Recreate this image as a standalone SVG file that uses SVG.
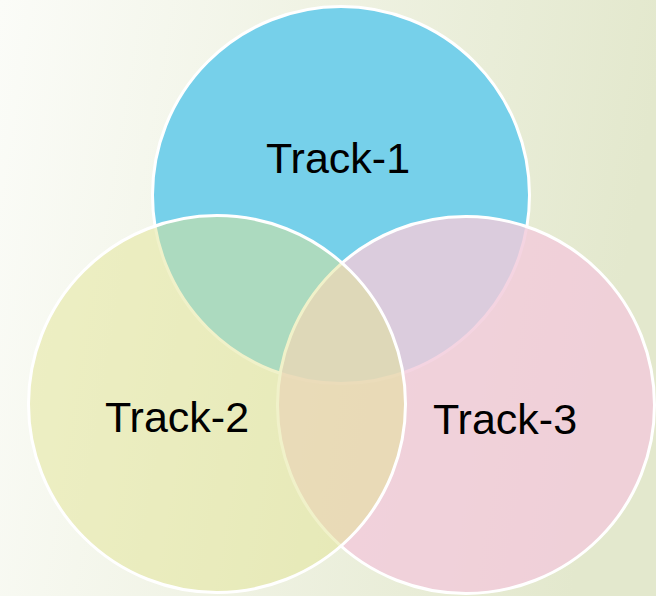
<svg xmlns="http://www.w3.org/2000/svg" width="656" height="596" viewBox="0 0 656 596">
  <defs>
    <linearGradient id="bg" x1="0" y1="0" x2="1" y2="0.15">
      <stop offset="0" stop-color="#fbfcf8"/>
      <stop offset="1" stop-color="#e3e8cd"/>
    </linearGradient>
  </defs>
  <style>
    .c { stroke: #ffffff; stroke-width: 3; }
    .label { font-family: "Liberation Sans", Arial, sans-serif; font-size: 43px; fill: #000000; text-anchor: middle; }
  </style>
  <rect width="656" height="596" fill="url(#bg)"/>
  <g id="track-1">
    <circle class="c" cx="341" cy="195" r="188.5" fill="#76d0ea"/>
  </g>
  <g id="track-3">
    <circle class="c" cx="466" cy="405" r="188.5" fill="#f2cbda" fill-opacity="0.82"/>
  </g>
  <g id="track-2">
    <circle class="c" cx="217" cy="404" r="188.5" fill="#e2e494" fill-opacity="0.5"/>
  </g>
  <g id="labels">
    <text class="label" x="338" y="173">Track-1</text>
    <text class="label" x="177" y="432">Track-2</text>
    <text class="label" x="505" y="434">Track-3</text>
  </g>
  <g id="connectors"/>
</svg>
